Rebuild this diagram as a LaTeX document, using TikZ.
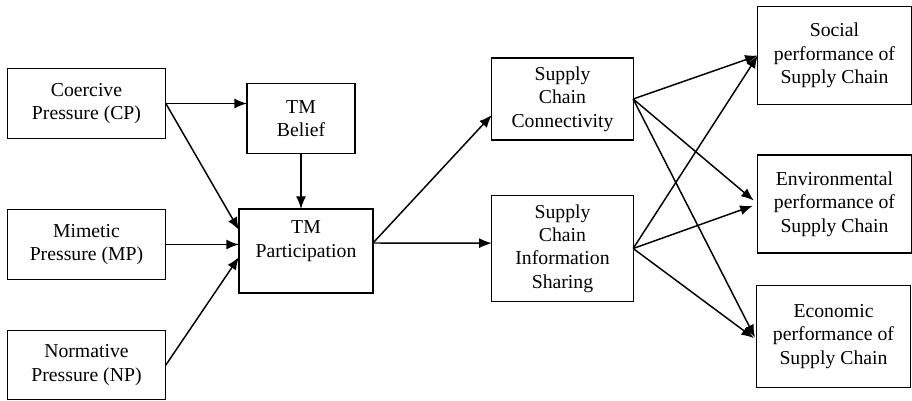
\documentclass[tikz,border=0pt]{standalone}
\usepackage{fontspec}
\setmainfont{Liberation Serif}
\usepackage{tikz}
\usetikzlibrary{arrows.meta,positioning}
\tikzset{box/.style={draw,line width=0.9pt,outer sep=0pt,inner sep=2pt,align=center,
                     font=\rmfamily\fontsize{14.8}{17.6}\selectfont},
         link/.style={line width=1.1pt,-{Latex[length=9.5pt,width=7.5pt]}}}

\begin{document}
\begin{tikzpicture}[x=0.75pt,y=-0.75pt]
    \useasboundingbox (0,0) rectangle (912,400);
    % pressures
    \node[box,minimum width=119pt,minimum height=52pt] (cp) at (86.5,103.5) {Coercive\\Pressure (CP)};
    \node[box,minimum width=119pt,minimum height=52pt] (mp) at (86.5,244.5) {Mimetic\\Pressure (MP)};
    \node[box,minimum width=119pt,minimum height=52pt] (np) at (86.5,365) {Normative\\Pressure (NP)};
    % top management
    \node[box,minimum width=81pt,minimum height=53pt] (tmb) at (301,118.5) {TM\\Belief};
    \node[box,minimum width=100.5pt,minimum height=63pt] (tmp) at (306,251) {TM\\Participation\\\mbox{}};
    % supply chain
    \node[box,minimum width=106pt,minimum height=61.5pt] (scc) at (562.5,99) {Supply\\Chain\\Connectivity};
    \node[box,minimum width=106pt,minimum height=80pt] (scis) at (562.5,248.5) {Supply\\Chain\\Information\\Sharing};
    % performance
    \node[box,minimum width=115pt,minimum height=73pt] (soc) at (834.5,55.5) {Social\\performance of\\Supply Chain};
    \node[box,minimum width=115pt,minimum height=73.5pt] (env) at (834.5,204) {Environmental\\performance of\\Supply Chain};
    \node[box,minimum width=116pt,minimum height=77pt] (eco) at (833.5,336.5) {Economic\\performance of\\Supply Chain};

    \draw[link] (cp.east) -- (cp.east -| tmb.west);
    \draw[link] (cp.east) -- ([yshift=15.75pt]tmp.west);
    \draw[link] (mp.east) -- (mp.east -| tmp.west);
    \draw[link] (np.east) -- ([yshift=-4.5pt]tmp.west);
    \draw[link] (tmb.south) -- (tmb.south |- tmp.north);

    \draw[link] ([yshift=6pt]tmp.east) -- ([yshift=-12pt]scc.west);
    \draw[link] ([yshift=6pt]tmp.east) -- ([yshift=4pt]scis.west);

    \foreach \s in {scc,scis} {
        \draw[link] (\s.east) -- (soc.west);
        \draw[link,shorten >=4pt] (\s.east) -- (env.west);
        \draw[link,shorten >=2pt] (\s.east) -- ([yshift=-2.5pt]eco.west);
    }
\end{tikzpicture}
\end{document}
